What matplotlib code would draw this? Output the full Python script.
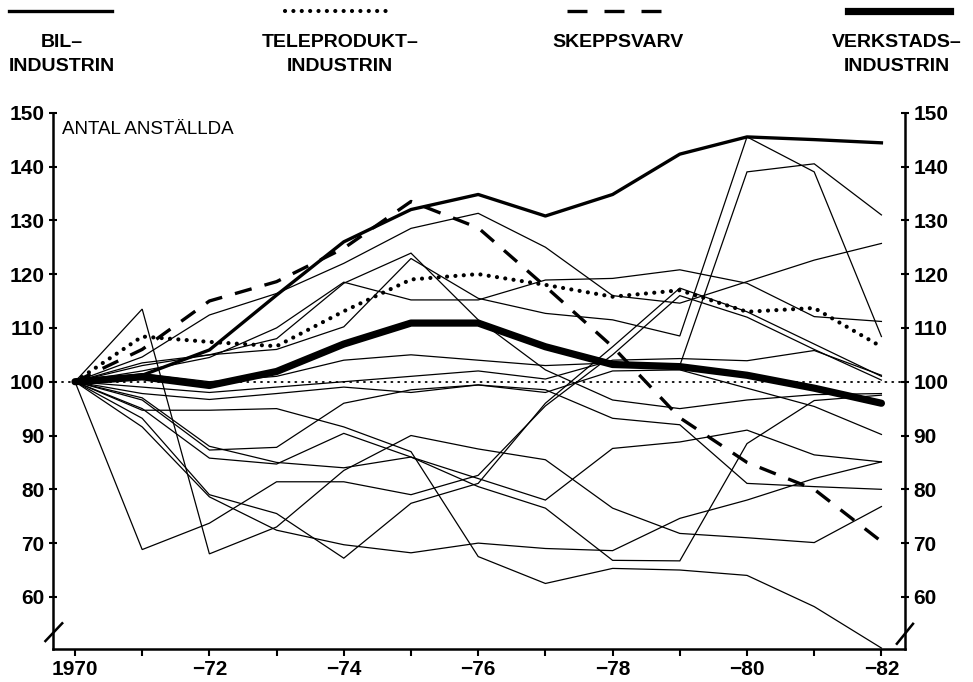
import numpy as np
import matplotlib
matplotlib.use("Agg")
import matplotlib.pyplot as plt
from matplotlib.lines import Line2D

plt.rcParams['font.family'] = ['Liberation Sans', 'DejaVu Sans']

years = np.arange(1970, 1983)

# main series (index 1970 = 100)
bil = [100, 101.2, 105.9, 116.1, 126.0, 132.0, 134.8, 130.8, 134.8, 142.3, 145.5, 145.0, 144.4]
tele = [100, 108.4, 107.4, 106.6, 113.1, 119.0, 120.0, 118.0, 115.8, 117.0, 113.0, 113.7, 106.5]
skepp = [100, 106.0, 115.0, 118.6, 124.8, 133.5, 128.6, 117.7, 106.5, 93.3, 85.0, 80.0, 70.3]
verkstad = [100, 100.9, 99.3, 101.9, 107.0, 110.9, 110.9, 106.5, 103.2, 102.8, 101.2, 98.8, 96.0]

# thin lines, other industries
others = [
    [100, 104.6, 112.4, 116.4, 122.0, 128.5, 131.3, 125.0, 116.0, 114.6, 118.6, 122.6, 125.7],
    [100, 113.5, 68.0, 73.0, 83.5, 90.0, 87.5, 85.5, 76.5, 71.8, 71.0, 70.1, 76.8],
    [100, 68.8, 73.7, 81.4, 81.4, 79.0, 82.6, 95.5, 105.0, 116.0, 112.0, 106.0, 100.3],
    [100, 91.6, 78.6, 72.4, 69.7, 68.2, 70.0, 69.0, 68.6, 74.6, 78.0, 82.0, 85.1],
    [100, 94.7, 94.7, 95.0, 91.6, 87.0, 67.5, 62.5, 65.3, 65.0, 64.0, 58.2, 50.5],
    [100, 93.2, 79.0, 75.5, 67.2, 77.4, 81.1, 96.0, 106.5, 117.4, 113.0, 107.0, 101.0],
    [100, 103.0, 105.0, 106.0, 110.2, 122.9, 115.5, 112.7, 111.5, 108.5, 145.5, 139.0, 108.4],
    [100, 101.5, 100.0, 101.0, 104.0, 105.0, 104.0, 103.0, 103.5, 103.0, 139.0, 140.5, 131.0],
    [100, 103.5, 105.0, 108.0, 118.3, 123.9, 111.5, 102.2, 96.6, 95.0, 96.6, 97.6, 97.8],
    [100, 102.0, 104.5, 110.0, 118.5, 115.2, 115.2, 118.9, 119.2, 120.8, 118.3, 112.1, 111.2],
    [100, 97.8, 96.7, 97.8, 99.0, 98.0, 99.4, 98.0, 102.0, 102.2, 98.8, 95.4, 90.2],
    [100, 96.6, 87.3, 87.8, 96.0, 98.5, 99.4, 98.5, 93.2, 92.0, 81.1, 80.5, 80.0],
    [100, 95.0, 85.8, 84.7, 90.4, 86.0, 82.0, 78.0, 87.6, 88.8, 91.0, 86.4, 85.1],
    [100, 97.0, 88.0, 85.0, 84.0, 86.0, 80.5, 76.5, 66.8, 66.7, 88.5, 96.5, 97.5],
    [100, 99.0, 98.0, 99.0, 100.0, 101.0, 102.0, 100.5, 104.0, 104.3, 103.9, 105.8, 101.2],
]

yticks = list(range(60, 151, 10))
xlabels = ['1970', '', '\u221272', '', '\u221274', '', '\u221276', '', '\u221278', '', '\u221280', '', '\u221282']

W, H = 973, 682
fig = plt.figure(figsize=(W / 100, H / 100), dpi=100)
ax = fig.add_axes([53 / W, 1 - 649 / H, (905 - 53) / W, (649 - 112.7) / H])
ax.set_xlim(1969.673, 1982.351)
ax.set_ylim(50.32, 150)

for s in others:
    ax.plot(years, s, color='black', lw=0.9, solid_joinstyle='miter')

ax.plot([1969.8, 1982.35], [100, 100], color='black', lw=1.3, ls=(0, (0.6, 3.2)), dash_capstyle='round')
ax.plot(years, verkstad, color='black', lw=5.2, solid_capstyle='round')
ax.plot(years, bil, color='black', lw=2.4)
ax.plot(years, tele, color='black', lw=3.0, ls=(0, (0.01, 2.0)), dash_capstyle='round')
ax.plot(years, skepp, color='black', lw=2.4, ls=(0, (5.2, 4.0)))

# axes
ax.spines['top'].set_visible(False)
for side in ['left', 'right', 'bottom']:
    ax.spines[side].set_linewidth(1.8)
ax.spines['left'].set_bounds(50.32, 150)
ax.spines['right'].set_bounds(50.32, 150)

ax.set_yticks(yticks)
ax.set_yticklabels([str(v) for v in yticks])
ax.tick_params(axis='y', which='both', left=True, right=True, labelleft=True, labelright=True,
               direction='out', length=6, width=1.5, labelsize=15, pad=3)
ax.tick_params(axis='y', right=True, direction='inout')
ax.set_xticks(years)
ax.set_xticklabels(xlabels)
ax.tick_params(axis='x', direction='out', length=5, width=1.5, labelsize=15, pad=3)
for lab in ax.get_xticklabels() + ax.get_yticklabels():
    lab.set_fontweight('bold')

# axis break marks
ax.plot([1969.56, 1969.81], [51.8, 55.1], color='black', lw=1.8, clip_on=False)
ax.plot([1982.23, 1982.47], [51.3, 55.0], color='black', lw=1.8, clip_on=False)

ax.text(1969.80, 148.5, 'ANTAL ANST\u00c4LLDA', fontsize=13.5, va='top', ha='left')

# legend row at top
def fx(x):
    return x / W

def fy(y):
    return 1 - y / H

legend_items = [
    (9, 112, dict(lw=2.4, ls='-'), 'BIL\u2013\nINDUSTRIN', 62),
    (285, 391, dict(lw=3.0, ls=(0, (0.01, 2.0)), dash_capstyle='round'), 'TELEPRODUKT\u2013\nINDUSTRIN', 340),
    (567, 663, dict(lw=2.4, ls=(0, (6.0, 5.1))), 'SKEPPSVARV', 618),
    (848, 950, dict(lw=5.2, ls='-'), 'VERKSTADS\u2013\nINDUSTRIN', 897),
]
for x0, x1, kw, label, cx in legend_items:
    fig.add_artist(Line2D([fx(x0), fx(x1)], [fy(11), fy(11)], color='black', transform=fig.transFigure, **kw))
    fig.text(fx(cx), fy(34), label, ha='center', va='top', fontsize=14, fontweight='bold', linespacing=1.55)

fig.savefig('out.png', dpi=100)
